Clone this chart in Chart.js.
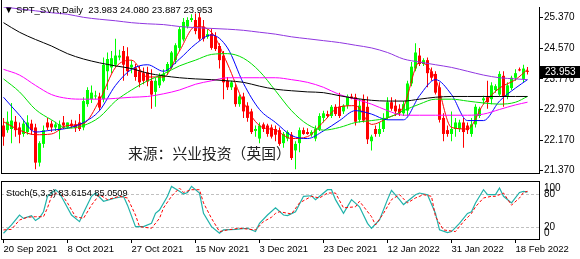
<!DOCTYPE html>
<html>
<head>
<meta charset="utf-8">
<script src="https://cdn.jsdelivr.net/npm/chart.js@4/dist/chart.umd.min.js"></script>
<style>
  html, body { margin: 0; padding: 0; background: #fff; }
  #wrap { position: relative; width: 580px; height: 259px; overflow: hidden; }
  canvas { position: absolute; left: 0; }
  #priceChart { top: 0; }
  #stochChart { top: 180px; }
  .lbl { position: absolute; font-family: 'Liberation Sans', Arial, sans-serif; font-size: 9.5px; line-height: 12px; color: #000; white-space: pre; }
  #title { left: 4px; top: 4px; }
  #stochTitle { left: 6px; top: 187px; font-size: 9.2px; }
  #source { left: 128px; top: 145px; font-family: 'Noto Sans CJK SC', sans-serif; font-size: 14.8px; line-height: 16px; color: #222; }
</style>
</head>
<body>
<div id="wrap">
  <canvas id="priceChart" width="580" height="180"></canvas>
  <canvas id="stochChart" width="580" height="79"></canvas>
  <div id="title" class="lbl">▼ SPT_SVR,Daily  23.983 24.080 23.887 23.953</div>
  <div id="stochTitle" class="lbl">Stoch(5,3,3) 83.6154 85.0509</div>
  <div id="source" class="lbl">来源：兴业投资（英国）</div>
</div>
<script>
// Daily bars (broker feed has Sunday bars)
const dates = [
  '20 Sep 2021','21 Sep 2021','22 Sep 2021','23 Sep 2021','24 Sep 2021',
  '26 Sep 2021','27 Sep 2021','28 Sep 2021','29 Sep 2021','30 Sep 2021','1 Oct 2021',
  '3 Oct 2021','4 Oct 2021','5 Oct 2021','6 Oct 2021','7 Oct 2021','8 Oct 2021',
  '10 Oct 2021','11 Oct 2021','12 Oct 2021','13 Oct 2021','14 Oct 2021','15 Oct 2021',
  '17 Oct 2021','18 Oct 2021','19 Oct 2021','20 Oct 2021','21 Oct 2021','22 Oct 2021',
  '24 Oct 2021','25 Oct 2021','26 Oct 2021','27 Oct 2021','28 Oct 2021','29 Oct 2021',
  '31 Oct 2021','1 Nov 2021','2 Nov 2021','3 Nov 2021','4 Nov 2021','5 Nov 2021',
  '7 Nov 2021','8 Nov 2021','9 Nov 2021','10 Nov 2021','11 Nov 2021','12 Nov 2021',
  '14 Nov 2021','15 Nov 2021','16 Nov 2021','17 Nov 2021','18 Nov 2021','19 Nov 2021',
  '21 Nov 2021','22 Nov 2021','23 Nov 2021','24 Nov 2021','25 Nov 2021','26 Nov 2021',
  '28 Nov 2021','29 Nov 2021','30 Nov 2021','1 Dec 2021','2 Dec 2021','3 Dec 2021',
  '6 Dec 2021','7 Dec 2021','8 Dec 2021','9 Dec 2021','10 Dec 2021',
  '12 Dec 2021','13 Dec 2021','14 Dec 2021','15 Dec 2021','16 Dec 2021','17 Dec 2021',
  '19 Dec 2021','20 Dec 2021','21 Dec 2021','22 Dec 2021','23 Dec 2021','24 Dec 2021',
  '27 Dec 2021','28 Dec 2021','29 Dec 2021','30 Dec 2021','31 Dec 2021',
  '2 Jan 2022','3 Jan 2022','4 Jan 2022','5 Jan 2022','6 Jan 2022','7 Jan 2022',
  '9 Jan 2022','10 Jan 2022','11 Jan 2022','12 Jan 2022','13 Jan 2022','14 Jan 2022',
  '16 Jan 2022','17 Jan 2022','18 Jan 2022','19 Jan 2022','20 Jan 2022','21 Jan 2022',
  '23 Jan 2022','24 Jan 2022','25 Jan 2022','26 Jan 2022','27 Jan 2022','28 Jan 2022',
  '30 Jan 2022','31 Jan 2022','1 Feb 2022','2 Feb 2022','3 Feb 2022','4 Feb 2022',
  '6 Feb 2022','7 Feb 2022','8 Feb 2022','9 Feb 2022','10 Feb 2022','11 Feb 2022',
  '13 Feb 2022','14 Feb 2022','15 Feb 2022','16 Feb 2022','17 Feb 2022','18 Feb 2022',
  '20 Feb 2022','21 Feb 2022','22 Feb 2022'
];

const open = [22.55,22.43,22.46,22.65,22.50,22.33,22.38,22.60,22.50,21.58,
  22.07,22.63,22.60,22.50,22.43,22.63,22.50,22.60,22.58,22.63,
  22.50,23.11,23.24,23.31,23.31,23.24,23.97,24.07,24.14,24.33,
  24.50,24.36,24.07,24.07,23.97,23.92,23.94,23.72,23.43,23.60,
  23.72,23.97,24.07,24.26,24.58,24.80,25.14,25.31,25.31,25.38,
  25.14,24.87,24.94,24.87,24.63,24.38,23.72,23.55,23.55,23.11,
  23.31,23.07,22.92,22.41,22.21,22.58,22.55,22.50,22.46,22.43,
  22.09,22.21,22.31,21.90,22.09,22.43,22.38,22.31,22.21,22.46,
  22.75,22.85,22.80,23.04,23.04,22.92,23.07,23.31,23.29,22.70,
  23.24,23.04,22.14,22.46,22.33,22.46,22.75,23.16,23.07,22.99,
  22.87,22.94,23.65,24.04,24.38,24.16,24.26,23.97,23.90,23.55,
  22.75,22.43,22.33,22.46,22.46,22.63,22.55,22.33,22.58,22.80,
  23.21,23.29,23.24,23.48,23.36,23.85,23.31,23.53,23.80,24.02,
  23.77,23.983];
const high = [22.75,22.92,23.14,22.80,22.63,22.70,22.82,22.70,22.60,22.14,
  22.55,22.75,22.68,22.65,22.68,22.80,22.63,22.70,22.68,22.85,
  23.29,23.55,23.60,23.46,23.41,24.33,24.46,24.50,24.82,24.53,
  24.63,24.60,24.26,24.16,24.11,24.07,24.09,24.02,23.80,23.92,
  24.02,24.21,24.50,24.70,25.14,25.36,25.38,25.46,25.48,25.50,
  25.31,25.07,25.09,24.99,24.70,24.50,23.82,23.72,23.63,23.36,
  23.41,23.16,22.99,22.55,22.63,22.63,22.60,22.58,22.55,22.50,
  22.38,22.43,22.38,22.14,22.50,22.50,22.48,22.43,22.55,22.87,
  22.94,22.94,23.09,23.11,23.41,23.11,23.36,23.38,23.38,23.24,
  23.36,23.31,22.31,22.55,22.63,22.87,23.29,23.29,23.24,23.11,
  23.19,23.72,24.21,24.70,24.58,24.31,24.33,24.07,23.97,23.68,
  22.87,22.55,22.92,22.75,22.70,22.75,22.63,22.75,23.11,23.04,
  23.33,23.72,23.68,23.63,23.97,23.97,23.68,23.85,24.02,24.07,
  24.14,24.080];
const low = [22.02,22.36,22.09,22.26,22.09,22.26,22.31,22.31,21.41,21.48,
  21.97,22.43,22.38,22.41,22.19,22.46,22.46,22.48,22.38,22.41,
  22.43,23.04,23.14,23.24,22.94,23.16,23.48,23.92,24.07,24.26,
  23.72,23.85,23.92,23.72,23.55,23.63,23.58,22.99,23.04,23.53,
  23.68,23.87,24.02,24.16,24.50,24.75,25.09,25.26,24.94,24.77,
  24.75,24.82,24.53,24.50,24.04,23.24,23.48,23.48,23.04,23.04,
  22.75,22.65,22.33,22.26,22.09,22.38,22.26,22.21,22.14,22.02,
  21.97,22.14,21.65,21.41,21.85,22.31,22.31,22.26,22.14,22.41,
  22.63,22.75,22.75,22.80,22.75,22.85,22.99,23.24,22.55,22.63,
  22.63,22.07,21.90,22.26,22.26,22.38,22.70,22.94,22.80,22.80,
  22.80,22.80,23.58,23.97,24.11,24.11,23.55,23.72,23.36,22.63,
  22.14,22.26,22.14,22.26,22.38,21.97,22.33,22.26,22.50,22.75,
  23.11,22.99,23.11,23.41,23.31,23.04,23.24,23.48,23.72,23.97,
  23.68,23.887];
const close = [22.26,22.65,22.68,22.43,22.31,22.60,22.63,22.43,21.58,22.09,
  22.43,22.50,22.50,22.58,22.58,22.55,22.63,22.53,22.48,22.46,
  23.19,23.48,23.41,23.33,23.02,24.14,24.29,24.31,24.38,24.38,
  24.14,23.97,24.14,23.82,23.68,23.72,23.70,23.36,23.72,23.85,
  23.90,24.16,24.46,24.65,25.07,25.26,25.31,25.36,25.02,24.82,
  24.82,24.94,24.58,24.55,24.26,23.68,23.55,23.68,23.11,23.31,
  22.92,22.75,22.38,22.46,22.55,22.46,22.33,22.26,22.31,22.07,
  22.33,22.38,21.70,22.07,22.43,22.33,22.33,22.38,22.46,22.80,
  22.87,22.80,23.04,22.85,22.80,23.07,23.31,23.26,22.65,23.07,
  22.68,22.19,22.26,22.33,22.46,22.75,23.16,22.99,22.92,22.87,
  23.11,23.65,24.09,24.46,24.16,24.26,23.92,23.80,23.41,22.70,
  22.33,22.33,22.46,22.63,22.63,22.38,22.43,22.58,23.04,22.99,
  23.26,23.16,23.60,23.58,23.90,23.31,23.60,23.80,23.92,23.99,
  24.04,23.953];

// moving averages, read every 4th bar
const maIndex = [0,4,8,12,16,20,24,28,32,36,40,44,48,52,56,60,64,68,72,76,80,84,88,92,96,100,104,108,112,116,120,124,128,131];
const maRed = [22.65,22.43,22.31,22.33,22.55,22.60,23.21,24.07,24.26,23.82,23.82,24.50,25.14,24.99,24.16,23.16,22.55,22.43,22.21,22.26,22.65,23.04,23.07,22.58,22.75,23.04,24.21,23.77,22.50,22.46,23.11,23.53,23.75,24.02];
const maBlue = [23.29,22.82,22.38,22.43,22.48,22.63,22.94,23.60,24.02,24.14,23.97,24.29,24.68,24.92,24.58,23.65,22.97,22.63,22.29,22.21,22.41,22.68,22.94,22.85,22.70,22.70,23.33,23.75,23.36,22.68,22.68,23.19,23.53,23.75];
const maGreen = [23.77,23.43,22.97,22.70,22.48,22.55,22.77,23.19,23.48,23.72,23.90,24.11,24.26,24.41,24.43,24.31,23.97,23.46,22.94,22.58,22.43,22.50,22.63,22.68,22.75,22.94,23.11,23.24,23.24,23.19,23.14,23.11,23.16,23.31];
const maMagenta = [24.02,23.87,23.60,23.36,23.26,23.24,23.24,23.26,23.29,23.31,23.38,23.48,23.63,23.72,23.80,23.80,23.80,23.80,23.75,23.68,23.55,23.36,23.24,23.11,22.94,22.82,22.82,22.82,22.82,22.82,22.85,22.97,23.09,23.16];
const maBlack = [25.24,24.99,24.80,24.63,24.43,24.29,24.19,24.11,24.04,23.92,23.85,23.80,23.77,23.75,23.72,23.68,23.58,23.50,23.46,23.43,23.41,23.33,23.26,23.21,23.19,23.19,23.24,23.29,23.31,23.31,23.31,23.31,23.31,23.31];
const maPurple = [25.65,25.60,25.55,25.50,25.46,25.38,25.33,25.29,25.24,25.21,25.19,25.14,25.11,25.09,25.07,25.04,24.99,24.94,24.87,24.82,24.77,24.72,24.65,24.58,24.46,24.29,24.21,24.14,24.07,23.97,23.87,23.80,23.77,23.75];

// Stochastic (5,3,3)
const stochMainIdx = [0,2,4,5,7,8,9,10,11,13,14,17,19,20,22,23,25,28,30,31,33,35,37,38,39,41,42,44,45,46,47,49,50,52,54,55,58,61,63,64,66,68,70,71,73,75,77,78,81,82,83,85,87,89,91,92,94,96,97,99,100,103,104,106,108,109,111,112,114,116,117,118,120,121,123,124,125,127,129,130,131];
const stochMain = [9,24,42,36,41,32,37,48,76,88,82,42,30,46,76,82,67,73,76,60,21,21,27,45,51,76,94,85,80,83,94,82,45,21,9,15,16,18,12,27,42,55,42,41,48,76,77,70,88,88,70,45,70,57,27,18,33,70,87,70,61,79,82,79,45,15,10,12,27,45,48,64,88,79,79,91,76,64,83,85,83.6154];
const stochSignalIdx = [0,2,4,6,8,10,11,12,14,16,18,20,22,24,26,29,31,33,34,37,39,40,42,44,45,47,49,50,52,54,56,59,63,65,67,68,69,72,74,77,79,81,83,85,88,89,92,93,95,97,99,101,103,105,107,108,110,113,115,117,118,120,122,123,125,127,129,130,131];
const stochSignal = [15,16,33,38,39,39,55,76,85,64,39,36,60,79,70,76,73,42,21,18,36,55,76,91,83,88,88,64,36,12,15,18,15,30,38,45,48,44,64,76,73,82,82,55,57,67,39,24,45,70,79,64,73,79,76,39,15,12,30,45,57,73,76,76,82,60,73,83,85.0509];
const stochLevels = [20, 80];

const priceTicks = [21.37, 22.17, 22.97, 23.77, 24.57, 25.37];
const stochTicks = [0, 20, 80, 100];
const dateTicks = [0, 16, 32, 48, 64, 80, 96, 112, 128];

const X_MIN = -0.625, X_MAX = 133.875;
const UP = '#00ff00', DOWN = '#ff0000';
const FONT = { family: 'Liberation Sans', size: 10 };

Chart.defaults.font.family = 'Liberation Sans';

function pts(idx, vals) {
  return idx.map((x, k) => ({ x: x, y: vals[k] }));
}

function maLine(vals, color, width) {
  return {
    type: 'line',
    data: pts(maIndex, vals),
    borderColor: color,
    borderWidth: width,
    pointRadius: 0,
    cubicInterpolationMode: 'monotone',
    fill: false,
    order: 0
  };
}

const candleColors = close.map((c, i) => c >= open[i] ? UP : DOWN);

// frame + last price box
const priceDecor = {
  id: 'priceDecor',
  afterDraw(chart) {
    const { ctx, chartArea: a, scales: { y } } = chart;
    ctx.save();
    ctx.strokeStyle = '#000';
    ctx.lineWidth = 1;
    ctx.beginPath();
    ctx.moveTo(a.left + 0.5, 0);
    ctx.lineTo(a.left + 0.5, a.bottom + 1);
    ctx.moveTo(a.left, a.bottom + 0.5);
    ctx.lineTo(a.right + 1, a.bottom + 0.5);
    ctx.stroke();
    const last = close[close.length - 1];
    const py = Math.round(y.getPixelForValue(last));
    ctx.fillStyle = '#000';
    ctx.fillRect(a.right + 1, py - 6, 40, 12);
    ctx.fillStyle = '#fff';
    ctx.font = '10px "Liberation Sans"';
    ctx.textBaseline = 'middle';
    ctx.fillText(last.toFixed(3), a.right + 6, py + 0.5);
    ctx.restore();
  }
};

const stochDecor = {
  id: 'stochDecor',
  beforeDatasetsDraw(chart) {
    const { ctx, chartArea: a, scales: { y } } = chart;
    ctx.save();
    ctx.strokeStyle = '#c0c0c0';
    ctx.lineWidth = 1;
    ctx.setLineDash([3, 2]);
    stochLevels.forEach(v => {
      const py = Math.round(y.getPixelForValue(v)) + 0.5;
      ctx.beginPath();
      ctx.moveTo(a.left, py);
      ctx.lineTo(a.right, py);
      ctx.stroke();
    });
    ctx.restore();
  },
  afterDraw(chart) {
    const { ctx, chartArea: a, scales: { y } } = chart;
    ctx.save();
    ctx.strokeStyle = '#000';
    ctx.lineWidth = 1;
    ctx.beginPath();
    ctx.moveTo(a.left, a.top - 0.5);
    ctx.lineTo(a.right + 1, a.top - 0.5);
    ctx.moveTo(a.left + 0.5, a.top - 1);
    ctx.lineTo(a.left + 0.5, a.bottom + 1);
    ctx.stroke();
    ctx.fillStyle = '#000';
    ctx.font = '10px "Liberation Sans"';
    ctx.textBaseline = 'middle';
    stochTicks.forEach(v => {
      let py = y.getPixelForValue(v);
      py = Math.min(Math.max(py, a.top + 6), a.bottom - 6);
      ctx.fillText(String(v), a.right + 5, py);
    });
    ctx.restore();
  }
};

new Chart(document.getElementById('priceChart'), {
  type: 'bar',
  data: {
    datasets: [
      {
        data: close.map((c, i) => ({ x: i, y: [low[i], high[i]] })),
        backgroundColor: candleColors,
        barThickness: 1,
        grouped: false,
        inflateAmount: 0,
        order: 2
      },
      {
        data: close.map((c, i) => ({ x: i, y: [open[i], c] })),
        backgroundColor: candleColors,
        barThickness: 3,
        minBarLength: 1,
        grouped: false,
        inflateAmount: 0,
        order: 1
      },
      maLine(maPurple, '#9036e0', 1),
      maLine(maBlack, '#000000', 1),
      maLine(maMagenta, '#ff00ff', 1),
      maLine(maGreen, '#00e000', 1),
      maLine(maBlue, '#0000ff', 1),
      maLine(maRed, '#ff0000', 1)
    ]
  },
  options: {
    responsive: false,
    animation: false,
    events: [],
    devicePixelRatio: 1,
    layout: { padding: { left: 1, top: 1, right: 0, bottom: 1 } },
    plugins: { legend: { display: false }, tooltip: { enabled: false } },
    scales: {
      x: { type: 'linear', min: X_MIN, max: X_MAX, display: false, offset: false },
      y: {
        position: 'right',
        min: 21.309,
        max: 25.650,
        afterBuildTicks: s => { s.ticks = priceTicks.map(v => ({ value: v })); },
        afterFit: s => { s.width = 41; },
        grid: { drawOnChartArea: false, drawTicks: true, tickLength: 4, color: '#000' },
        border: { display: true, color: '#000' },
        ticks: { color: '#000', font: FONT, padding: 1, callback: v => v.toFixed(3) }
      }
    }
  },
  plugins: [priceDecor]
});

new Chart(document.getElementById('stochChart'), {
  type: 'line',
  data: {
    datasets: [
      { data: pts(stochSignalIdx, stochSignal), borderColor: '#ff0000', borderWidth: 1, borderDash: [3, 2], pointRadius: 0 },
      { data: pts(stochMainIdx, stochMain), borderColor: '#20b2aa', borderWidth: 1.2, pointRadius: 0 }
    ]
  },
  options: {
    responsive: false,
    animation: false,
    events: [],
    devicePixelRatio: 1,
    layout: { padding: { left: 1, top: 2, right: 0, bottom: 0 } },
    plugins: { legend: { display: false }, tooltip: { enabled: false } },
    scales: {
      x: {
        type: 'linear',
        min: X_MIN,
        max: X_MAX,
        offset: false,
        afterBuildTicks: s => { s.ticks = dateTicks.map(v => ({ value: v })); },
        afterFit: s => { s.height = 20; s.paddingLeft = 0; s.paddingRight = 0; },
        grid: { drawOnChartArea: false, drawTicks: true, tickLength: 4, color: '#000' },
        border: { display: true, color: '#000' },
        ticks: { align: 'start', maxRotation: 0, autoSkip: false, color: '#000', font: { family: 'Liberation Sans', size: 9.5 }, padding: 1, callback: v => dates[v] }
      },
      y: {
        position: 'right',
        min: -1.5,
        max: 102,
        afterFit: s => { s.width = 41; },
        grid: { drawOnChartArea: false, drawTicks: false },
        border: { display: true, color: '#000' },
        ticks: { display: false }
      }
    }
  },
  plugins: [stochDecor]
});
</script>
</body>
</html>
